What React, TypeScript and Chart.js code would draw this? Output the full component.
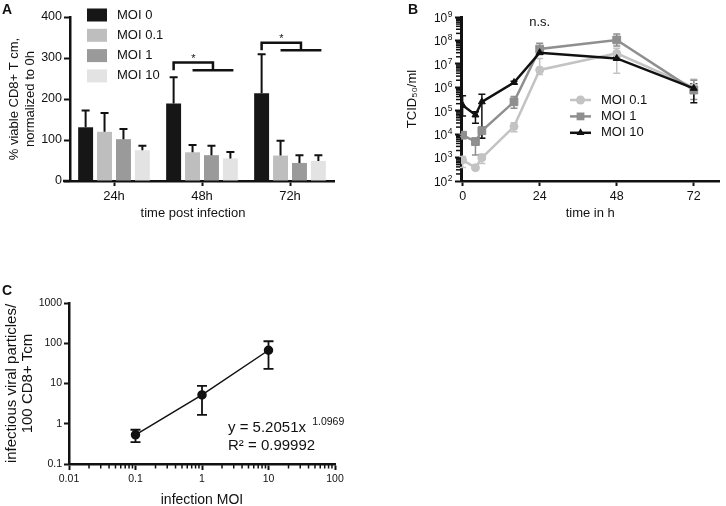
import React, { useEffect, useRef } from 'react';
import { Chart, registerables } from 'chart.js';

Chart.register(...registerables);

const FONT = '"Liberation Sans", Arial, Helvetica, sans-serif';
const INK = '#111111';
Chart.defaults.font.family = FONT;
Chart.defaults.color = INK;

// ---------- Panel A data ----------
const timeCats = ['24h', '48h', '72h'];
const namesA = ['MOI 0', 'MOI 0.1', 'MOI 1', 'MOI 10'];
const colorsA = ['#161616', '#bebebe', '#9a9a9a', '#e3e3e3'];
const moi0Mean = [131, 189, 214];
const moi0Sd = [41, 64, 95];
const moi01Mean = [120, 70, 62];
const moi01Sd = [46, 18, 36];
const moi1Mean = [102, 63, 44];
const moi1Sd = [25, 23, 19];
const moi10Mean = [75, 55, 49];
const moi10Sd = [11, 16, 14];
const yTicksA = [0, 100, 200, 300, 400];
const sigCatIndex = [1, 2];
const sigUpper = [289, 337];
const sigLower = [270, 319];
const sigLabel = ['*', '*'];
const xTitleA = 'time post infection';

const meansA = [moi0Mean, moi01Mean, moi1Mean, moi10Mean];
const sdsA = [moi0Sd, moi01Sd, moi1Sd, moi10Sd];

// ---------- Panel B data ----------
const hoursB = [0, 4, 6, 16, 24, 48, 72];
const xTicksB = [0, 24, 48, 72];
const yTicksB = [1e2, 1e3, 1e4, 1e5, 1e6, 1e7, 1e8, 1e9];
const namesB = ['MOI 0.1', 'MOI 1', 'MOI 10'];
const colorsB = ['#c3c3c3', '#8f8f8f', '#111111'];
const stylesB = ['circle', 'rect', 'triangle'];
const b01Mean = [790, 370, 980, 21000, 5.5e6, 2.8e7, 1.0e6];
const b01Lo = [380, 330, 560, 12600, 3.5e6, 4.0e6, 6.0e5];
const b01Hi = [1100, 420, 1400, 31000, 1.7e7, 4.6e7, 2.2e6];
const b1Mean = [9000, 4800, 14000, 2.4e5, 4.3e7, 1.05e8, 7.6e5];
const b1Lo = [8000, 1300, 6600, 1.26e5, 2.8e7, 5.8e7, 3.0e5];
const b1Hi = [10000, 6600, 20000, 4.0e5, 7.6e7, 1.9e8, 2.0e6];
const b10Mean = [1.7e5, 6.6e4, 2.4e5, 1.6e6, 3.0e7, 1.7e7, 9.0e5];
const b10Lo = [6e4, 2.9e4, 6600, 1.4e6, 2.6e7, 1.5e7, 2.2e5];
const b10Hi = [4.3e5, 9.0e4, 5.0e5, 1.8e6, 3.5e7, 2.0e7, 1.4e6];
const nsLabel = 'n.s.';

const meansB = [b01Mean, b1Mean, b10Mean];
const losB = [b01Lo, b1Lo, b10Lo];
const hisB = [b01Hi, b1Hi, b10Hi];

// ---------- Panel C data ----------
const moiC = [0.1, 1, 10];
const particlesC = [0.53, 5.2, 67];
const particlesLo = [0.35, 1.66, 23];
const particlesHi = [0.71, 8.7, 112];
const xTicksC = [0.01, 0.1, 1, 10, 100];
const yTicksC = [0.1, 1, 10, 100, 1000];
const fitMain = 'y = 5.2051x';
const fitExp = '1.0969';
const fitR2 = 'R\u00B2 = 0.99992';

const setTicks = (values: number[]) => (scale: any) => {
  scale.ticks = values.map((v) => ({ value: v }));
};

function drawMarker(ctx: CanvasRenderingContext2D, style: string, x: number, y: number, r: number) {
  ctx.beginPath();
  if (style === 'circle') {
    ctx.arc(x, y, r, 0, Math.PI * 2);
  } else if (style === 'rect') {
    const s = r * Math.SQRT1_2;
    ctx.rect(x - s, y - s, 2 * s, 2 * s);
  } else {
    let rad = 0;
    ctx.moveTo(x + Math.sin(rad) * r, y - Math.cos(rad) * r);
    rad += (2 * Math.PI) / 3;
    ctx.lineTo(x + Math.sin(rad) * r, y - Math.cos(rad) * r);
    rad += (2 * Math.PI) / 3;
    ctx.lineTo(x + Math.sin(rad) * r, y - Math.cos(rad) * r);
    ctx.closePath();
  }
  ctx.fill();
}

function minorValues(majors: number[]) {
  const out: number[] = [];
  for (let i = 0; i < majors.length - 1; i++) {
    for (let m = 2; m <= 9; m++) out.push(m * majors[i]);
  }
  return out;
}

const axisGrid = (len: number) => ({
  display: true,
  drawOnChartArea: false,
  drawTicks: true,
  tickLength: len,
  tickWidth: 2,
  tickColor: INK,
});
const axisBorder = (w: number) => ({ display: true, color: INK, width: w });

// ---------- Panel A ----------
function makeA(canvas: HTMLCanvasElement) {
  const plugin = {
    id: 'panelA',
    afterDatasetsDraw(chart: any) {
      const ctx: CanvasRenderingContext2D = chart.ctx;
      const y = chart.scales.y;
      const area = chart.chartArea;
      ctx.save();
      ctx.strokeStyle = INK;
      ctx.lineWidth = 2;
      sdsA.forEach((sd, i) => {
        const meta = chart.getDatasetMeta(i);
        meta.data.forEach((bar: any, j: number) => {
          const top = y.getPixelForValue(meansA[i][j] + sd[j]);
          ctx.beginPath();
          ctx.moveTo(bar.x, bar.y);
          ctx.lineTo(bar.x, top);
          ctx.moveTo(bar.x - 4, top);
          ctx.lineTo(bar.x + 4, top);
          ctx.stroke();
        });
      });
      // significance brackets
      ctx.lineWidth = 2.5;
      sigCatIndex.forEach((c, k) => {
        const x0 = chart.getDatasetMeta(0).data[c].x;
        const x1 = chart.getDatasetMeta(1).data[c].x;
        const x3 = chart.getDatasetMeta(3).data[c].x + 3;
        const mid = (x1 + x3) / 2;
        const yTop = y.getPixelForValue(sigUpper[k]);
        const yLow = y.getPixelForValue(sigLower[k]);
        ctx.beginPath();
        ctx.moveTo(x0, yLow);
        ctx.lineTo(x0, yTop);
        ctx.lineTo(mid, yTop);
        ctx.lineTo(mid, yLow);
        ctx.moveTo(x1, yLow);
        ctx.lineTo(x3, yLow);
        ctx.stroke();
        ctx.fillStyle = INK;
        ctx.font = `11px ${FONT}`;
        ctx.textAlign = 'center';
        ctx.textBaseline = 'alphabetic';
        ctx.fillText(sigLabel[k], (x0 + mid) / 2, yTop - 1);
      });
      // x axis extension to the left
      ctx.beginPath();
      ctx.moveTo(area.left - 7, area.bottom);
      ctx.lineTo(area.left, area.bottom);
      ctx.stroke();
      // x axis title
      ctx.fillStyle = INK;
      ctx.font = `13px ${FONT}`;
      ctx.textAlign = 'center';
      ctx.textBaseline = 'middle';
      ctx.fillText(xTitleA, (area.left + area.right) / 2 - 9, area.bottom + 32);
      // legend
      ctx.textAlign = 'left';
      namesA.forEach((n, i) => {
        const cy = area.top - 2 + i * 20.3;
        ctx.fillStyle = colorsA[i];
        ctx.fillRect(area.left + 17, cy - 6.5, 20, 13);
        ctx.fillStyle = INK;
        ctx.fillText(n, area.left + 47, cy);
      });
      ctx.restore();
    },
  };

  return new Chart(canvas, {
    type: 'bar',
    data: {
      labels: timeCats,
      datasets: namesA.map((n, i) => ({
        label: n,
        data: meansA[i],
        backgroundColor: colorsA[i],
        borderWidth: 0,
        categoryPercentage: 0.86,
        barPercentage: 0.79,
      })),
    },
    options: {
      animation: false,
      responsive: false,
      events: [],
      layout: { padding: { left: 0, right: 11, top: 17, bottom: 0 } },
      plugins: { legend: { display: false }, tooltip: { enabled: false } },
      scales: {
        x: {
          type: 'category',
          offset: true,
          grid: { ...axisGrid(5), offset: false },
          border: axisBorder(2.5),
          ticks: { font: { size: 13 }, color: INK, padding: 3, maxRotation: 0 },
          title: { display: false },
          afterFit: (s: any) => { s.height = 49; },
        },
        y: {
          type: 'linear',
          min: 0,
          max: 400,
          afterBuildTicks: setTicks(yTicksA),
          grid: axisGrid(6),
          border: axisBorder(2.5),
          ticks: { font: { size: 12.5 }, color: INK, padding: 2 },
          title: {
            display: true,
            text: ['% viable CD8+ T cm,', 'normalized to 0h'],
            font: { size: 13, lineHeight: 1.25 },
            color: INK,
            padding: { top: 6, bottom: 0 },
          },
          afterFit: (s: any) => { s.width = 70; },
        },
      },
    },
    plugins: [plugin],
  } as any);
}

// ---------- Panel B ----------
function makeB(canvas: HTMLCanvasElement) {
  const plugin = {
    id: 'panelB',
    beforeDatasetsDraw(chart: any) {
      const ctx: CanvasRenderingContext2D = chart.ctx;
      const { x, y } = chart.scales;
      ctx.save();
      ctx.lineWidth = 1.5;
      meansB.forEach((_, i) => {
        ctx.strokeStyle = colorsB[i];
        hoursB.forEach((h, j) => {
          const px = x.getPixelForValue(h);
          const pLo = y.getPixelForValue(losB[i][j]);
          const pHi = y.getPixelForValue(hisB[i][j]);
          ctx.beginPath();
          ctx.moveTo(px, pLo);
          ctx.lineTo(px, pHi);
          ctx.moveTo(px - 3.5, pLo);
          ctx.lineTo(px + 3.5, pLo);
          ctx.moveTo(px - 3.5, pHi);
          ctx.lineTo(px + 3.5, pHi);
          ctx.stroke();
        });
      });
      ctx.restore();
    },
    afterDraw(chart: any) {
      const ctx: CanvasRenderingContext2D = chart.ctx;
      const { x, y } = chart.scales;
      const area = chart.chartArea;
      ctx.save();
      // minor log ticks
      ctx.strokeStyle = INK;
      ctx.lineWidth = 1.5;
      minorValues(yTicksB).forEach((v) => {
        const py = y.getPixelForValue(v);
        ctx.beginPath();
        ctx.moveTo(area.left - 1, py);
        ctx.lineTo(area.left - 5, py);
        ctx.stroke();
      });
      // y tick labels: 10 with superscript exponent
      ctx.fillStyle = INK;
      ctx.textAlign = 'left';
      ctx.textBaseline = 'middle';
      const right = area.left - 8.5;
      yTicksB.forEach((v) => {
        const py = y.getPixelForValue(v);
        const e = String(Math.round(Math.log10(v)));
        ctx.font = `8.5px ${FONT}`;
        const we = ctx.measureText(e).width;
        ctx.font = `12px ${FONT}`;
        const wb = ctx.measureText('10').width;
        ctx.fillText('10', right - we - wb - 0.5, py + 1.5);
        ctx.font = `8.5px ${FONT}`;
        ctx.fillText(e, right - we, py - 2.5);
      });
      // n.s.
      ctx.font = `13px ${FONT}`;
      ctx.textAlign = 'center';
      ctx.fillText(nsLabel, x.getPixelForValue(24), area.top + 5);
      // legend
      ctx.textAlign = 'left';
      namesB.forEach((n, i) => {
        const cy = area.top + 83 + i * 16.4;
        const lx = area.left + 109;
        ctx.strokeStyle = colorsB[i];
        ctx.fillStyle = colorsB[i];
        ctx.lineWidth = 2.5;
        ctx.beginPath();
        ctx.moveTo(lx, cy);
        ctx.lineTo(lx + 21, cy);
        ctx.stroke();
        drawMarker(ctx, stylesB[i], lx + 10.5, cy, i === 1 ? 5.5 : 4.5);
        ctx.fillStyle = INK;
        ctx.fillText(n, lx + 31, cy);
      });
      ctx.restore();
    },
  };

  return new Chart(canvas, {
    type: 'line',
    data: {
      datasets: namesB.map((n, i) => ({
        label: n,
        data: hoursB.map((h, j) => ({ x: h, y: meansB[i][j] })),
        borderColor: colorsB[i],
        backgroundColor: colorsB[i],
        pointBackgroundColor: colorsB[i],
        pointBorderColor: colorsB[i],
        borderWidth: 2.5,
        pointStyle: stylesB[i],
        pointRadius: i === 1 ? 5.5 : 4,
        pointBorderWidth: 1,
        tension: 0,
        order: 2 - i,
      })),
    },
    options: {
      animation: false,
      responsive: false,
      events: [],
      layout: { padding: { left: 50, right: 2, top: 17, bottom: 0 } },
      plugins: { legend: { display: false }, tooltip: { enabled: false } },
      scales: {
        x: {
          type: 'linear',
          min: -0.5,
          max: 80,
          afterBuildTicks: setTicks(xTicksB),
          grid: axisGrid(5),
          border: axisBorder(2.5),
          ticks: { font: { size: 12.5 }, color: INK, padding: 3, maxRotation: 0, autoSkip: false },
          title: { display: true, text: 'time in h', font: { size: 13 }, color: INK, padding: { top: 0, bottom: 9.2 } },
          afterFit: (s: any) => { s.height = 49; },
        },
        y: {
          type: 'logarithmic',
          min: 1e2,
          max: 1e9,
          afterBuildTicks: setTicks(yTicksB),
          grid: axisGrid(6),
          border: axisBorder(3),
          ticks: { display: false },
          title: {
            display: true,
            text: 'TCID\u2085\u2080/ml',
            font: { size: 13 },
            color: INK,
            padding: { top: 0, bottom: 0 },
          },
          afterFit: (s: any) => { s.width = 56; },
        },
      },
    },
    plugins: [plugin],
  } as any);
}

// ---------- Panel C ----------
function makeC(canvas: HTMLCanvasElement) {
  const plugin = {
    id: 'panelC',
    beforeDatasetsDraw(chart: any) {
      const ctx: CanvasRenderingContext2D = chart.ctx;
      const { x, y } = chart.scales;
      ctx.save();
      ctx.strokeStyle = INK;
      ctx.lineWidth = 1.8;
      moiC.forEach((m, j) => {
        const px = x.getPixelForValue(m);
        const pLo = y.getPixelForValue(particlesLo[j]);
        const pHi = y.getPixelForValue(particlesHi[j]);
        ctx.beginPath();
        ctx.moveTo(px, pLo);
        ctx.lineTo(px, pHi);
        ctx.moveTo(px - 5, pLo);
        ctx.lineTo(px + 5, pLo);
        ctx.moveTo(px - 5, pHi);
        ctx.lineTo(px + 5, pHi);
        ctx.stroke();
      });
      ctx.restore();
    },
    afterDraw(chart: any) {
      const ctx: CanvasRenderingContext2D = chart.ctx;
      const { x } = chart.scales;
      const area = chart.chartArea;
      ctx.save();
      ctx.strokeStyle = INK;
      ctx.lineWidth = 1.5;
      minorValues(xTicksC).forEach((v) => {
        const px = x.getPixelForValue(v);
        ctx.beginPath();
        ctx.moveTo(px, area.bottom + 1);
        ctx.lineTo(px, area.bottom + 4.5);
        ctx.stroke();
      });
      // fit equation
      ctx.fillStyle = INK;
      ctx.textAlign = 'left';
      ctx.textBaseline = 'middle';
      ctx.font = `15px ${FONT}`;
      const tx = area.left + 159;
      const ty1 = area.top + 124.5;
      const ty2 = area.top + 143;
      ctx.fillText(fitMain, tx, ty1);
      const w = ctx.measureText(fitMain + ' ').width;
      ctx.fillText(fitR2, tx, ty2);
      ctx.font = `10.5px ${FONT}`;
      ctx.fillText(fitExp, tx + w + 2, ty1 - 5);
      ctx.restore();
    },
  };

  return new Chart(canvas, {
    type: 'line',
    data: {
      datasets: [
        {
          label: 'infectious viral particles',
          data: moiC.map((m, i) => ({ x: m, y: particlesC[i] })),
          borderColor: INK,
          backgroundColor: INK,
          pointBackgroundColor: INK,
          pointBorderColor: INK,
          borderWidth: 1.5,
          pointRadius: 4,
          tension: 0,
        },
      ],
    },
    options: {
      animation: false,
      responsive: false,
      events: [],
      layout: { padding: { left: 0, right: 65, top: 23, bottom: 0 } },
      plugins: { legend: { display: false }, tooltip: { enabled: false } },
      scales: {
        x: {
          type: 'logarithmic',
          min: 0.01,
          max: 100,
          afterBuildTicks: setTicks(xTicksC),
          grid: axisGrid(6),
          border: axisBorder(2.5),
          ticks: { font: { size: 10.5 }, color: INK, padding: 3, maxRotation: 0, autoSkip: false, callback: (v: any) => String(v) },
          title: { display: true, text: 'infection MOI', font: { size: 14, lineHeight: 0.86 }, color: INK, padding: { top: 0, bottom: 0 } },
          afterFit: (s: any) => { s.height = 42; },
        },
        y: {
          type: 'logarithmic',
          min: 0.1,
          max: 1000,
          afterBuildTicks: setTicks(yTicksC),
          grid: axisGrid(5),
          border: axisBorder(2.5),
          ticks: { font: { size: 10.5 }, color: INK, padding: 2, autoSkip: false, callback: (v: any) => String(v) },
          title: {
            display: true,
            text: ['infectious viral particles/', '100 CD8+ Tcm'],
            font: { size: 15, lineHeight: 1.1 },
            color: INK,
            padding: { top: 3.5, bottom: 0 },
          },
          afterFit: (s: any) => { s.width = 69; },
        },
      },
    },
    plugins: [plugin],
  } as any);
}

export default function App() {
  const aRef = useRef<HTMLCanvasElement>(null);
  const bRef = useRef<HTMLCanvasElement>(null);
  const cRef = useRef<HTMLCanvasElement>(null);

  useEffect(() => {
    const charts = [makeA(aRef.current!), makeB(bRef.current!), makeC(cRef.current!)];
    return () => charts.forEach((c) => c.destroy());
  }, []);

  const letter: React.CSSProperties = {
    position: 'absolute',
    fontFamily: FONT,
    fontWeight: 'bold',
    fontSize: 14,
    lineHeight: '16px',
    color: INK,
  };

  return (
    <div style={{ position: 'fixed', left: 0, top: 0, width: 726, height: 506, background: '#fff', overflow: 'hidden' }}>
      <canvas ref={aRef} width={345} height={230} style={{ position: 'absolute', left: 0, top: 0, width: 345, height: 230 }} />
      <canvas ref={bRef} width={371} height={230} style={{ position: 'absolute', left: 355, top: 0, width: 371, height: 230 }} />
      <canvas ref={cRef} width={400} height={226} style={{ position: 'absolute', left: 0, top: 280, width: 400, height: 226 }} />
      <div style={{ ...letter, left: 2, top: 1 }}>A</div>
      <div style={{ ...letter, left: 408, top: 1 }}>B</div>
      <div style={{ ...letter, left: 2, top: 282 }}>C</div>
    </div>
  );
}
